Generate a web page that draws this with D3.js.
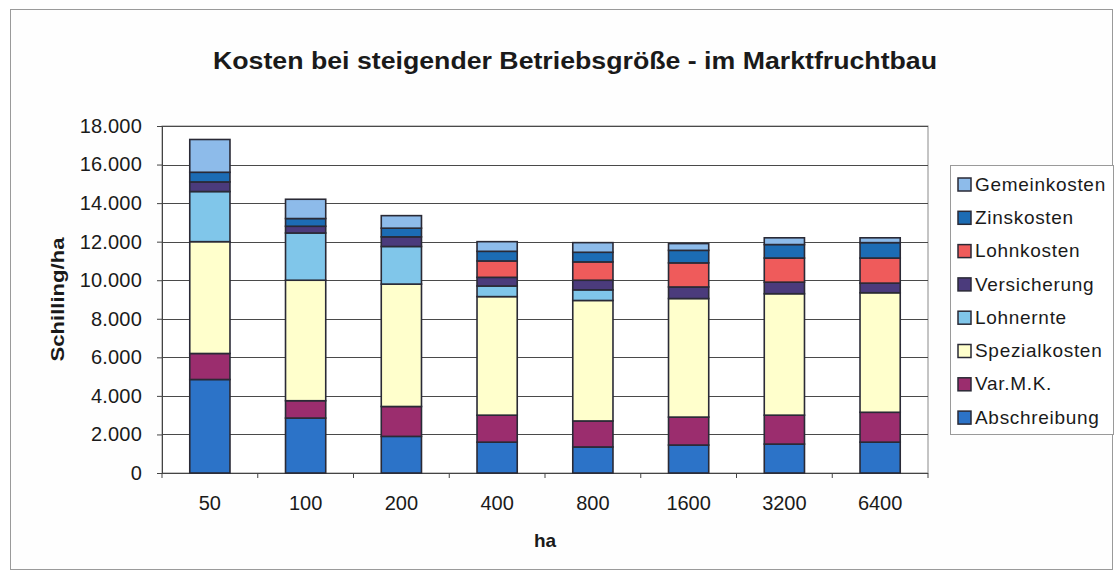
<!DOCTYPE html>
<html>
<head>
<meta charset="utf-8">
<script src="https://cdn.jsdelivr.net/npm/d3@7"></script>
<style>
  body { margin: 0; background: #fff; }
  text { font-family: "Liberation Sans", Arial, sans-serif; fill: #1a1a1a; }
</style>
</head>
<body>
<div id="chart"></div>
<script>
const width = 1120;
const height = 580;

// DATEN
const categories = ["50", "100", "200", "400", "800", "1600", "3200", "6400"];

const abschreibung  = [4850, 2850, 1900, 1600, 1350, 1450, 1500, 1600];
const varMK         = [1350,  900, 1550, 1400, 1350, 1450, 1500, 1550];
const spezialkosten = [5800, 6250, 6350, 6150, 6250, 6150, 6300, 6200];
const lohnernte     = [2600, 2450, 1950,  550,  550,    0,    0,    0];
const versicherung  = [ 500,  350,  500,  450,  500,  600,  600,  500];
const lohnkosten    = [   0,    0,    0,  850,  950, 1250, 1250, 1300];
const zinskosten    = [ 500,  400,  450,  500,  500,  650,  700,  800];
const gemeinkosten  = [1700, 1000,  650,  500,  500,  350,  350,  250];

const seriesNames = ["Abschreibung", "Var.M.K.", "Spezialkosten", "Lohnernte",
  "Versicherung", "Lohnkosten", "Zinskosten", "Gemeinkosten"];
const seriesValues = [abschreibung, varMK, spezialkosten, lohnernte,
  versicherung, lohnkosten, zinskosten, gemeinkosten];
const seriesColors = ["#2c73c8", "#9b2d6e", "#ffffcc", "#80c6ea",
  "#4b3b7c", "#ef5b5b", "#1c6cb4", "#8dbbea"];

const yTicks = [0, 2000, 4000, 6000, 8000, 10000, 12000, 14000, 16000, 18000];

const title = "Kosten bei steigender Betriebsgröße - im Marktfruchtbau";

// TABELLE FÜR STACK
const table = categories.map((c, i) => {
  const row = { cat: c };
  seriesNames.forEach((s, j) => { row[s] = seriesValues[j][i]; });
  return row;
});
const stacked = d3.stack().keys(seriesNames)(table);

const plot = { left: 162, right: 928, top: 126, bottom: 473 };

const svg = d3.select("#chart")
  .append("svg")
  .attr("width", width)
  .attr("height", height);

// RAHMEN
svg.append("rect")
  .attr("x", 10.5).attr("y", 9.5)
  .attr("width", 1102).attr("height", 560)
  .attr("fill", "#fefefe")
  .attr("stroke", "#9a9a9a");

const x = d3.scaleBand()
  .domain(categories)
  .range([plot.left, plot.right])
  .paddingInner(0.58)
  .paddingOuter(0.29);

const y = d3.scaleLinear()
  .domain([0, 18000])
  .range([plot.bottom, plot.top]);

// PLOTFLÄCHE
svg.append("rect")
  .attr("x", plot.left).attr("y", plot.top)
  .attr("width", plot.right - plot.left)
  .attr("height", plot.bottom - plot.top)
  .attr("fill", "#fff")
  .attr("stroke", "#8a8a8a");

// GITTER
svg.append("g")
  .selectAll("line")
  .data(yTicks.slice(1))
  .enter()
  .append("line")
  .attr("x1", plot.left).attr("x2", plot.right)
  .attr("y1", d => Math.round(y(d)) + 0.5)
  .attr("y2", d => Math.round(y(d)) + 0.5)
  .attr("stroke", "#4a4a4a")
  .attr("stroke-width", 1);

// ACHSEN
const yAxis = svg.append("g")
  .attr("transform", `translate(${plot.left},0)`)
  .call(d3.axisLeft(y)
    .tickValues(yTicks)
    .tickSize(5)
    .tickPadding(15)
    .tickFormat(d => d3.format(",")(d).replace(/,/g, ".")));

yAxis.select(".domain").attr("stroke", "#444");
yAxis.selectAll(".tick line").attr("stroke", "#444");
yAxis.selectAll("text")
  .attr("font-size", "20px")
  .attr("letter-spacing", "0.2px")
  .attr("fill", "#1a1a1a");

const boundaries = d3.range(categories.length + 1)
  .map(i => plot.left + i * x.step());

svg.append("line")
  .attr("x1", plot.left).attr("x2", plot.right)
  .attr("y1", plot.bottom + 0.5).attr("y2", plot.bottom + 0.5)
  .attr("stroke", "#444");

svg.append("g")
  .selectAll("line")
  .data(boundaries)
  .enter()
  .append("line")
  .attr("x1", d => d).attr("x2", d => d)
  .attr("y1", plot.bottom).attr("y2", plot.bottom + 5)
  .attr("stroke", "#444");

svg.append("g")
  .selectAll("text")
  .data(categories)
  .enter()
  .append("text")
  .attr("x", d => x(d) + x.bandwidth() / 2)
  .attr("y", 510)
  .attr("text-anchor", "middle")
  .attr("font-size", "20px")
  .text(d => d);

// BALKEN
svg.append("g")
  .selectAll("g")
  .data(stacked)
  .enter()
  .append("g")
  .attr("fill", (d, i) => seriesColors[i])
  .selectAll("rect")
  .data(d => d.filter(p => p[1] - p[0] > 0))
  .enter()
  .append("rect")
  .attr("x", d => x(d.data.cat))
  .attr("width", x.bandwidth())
  .attr("y", d => y(d[1]))
  .attr("height", d => y(d[0]) - y(d[1]))
  .attr("stroke", "#2a2a36")
  .attr("stroke-width", 1.6);

// TITEL
svg.append("text")
  .attr("x", 575)
  .attr("y", 69)
  .attr("text-anchor", "middle")
  .attr("font-size", "23px")
  .attr("font-weight", "bold")
  .attr("textLength", 724)
  .attr("lengthAdjust", "spacingAndGlyphs")
  .text(title);

svg.append("text")
  .attr("transform", `translate(64,${(plot.top + plot.bottom) / 2}) rotate(-90)`)
  .attr("text-anchor", "middle")
  .attr("font-size", "19px")
  .attr("font-weight", "bold")
  .attr("textLength", 124)
  .attr("lengthAdjust", "spacingAndGlyphs")
  .text("Schilling/ha");

svg.append("text")
  .attr("x", (plot.left + plot.right) / 2)
  .attr("y", 547)
  .attr("text-anchor", "middle")
  .attr("font-size", "19px")
  .attr("font-weight", "bold")
  .text("ha");

// LEGENDE
const legend = svg.append("g");

legend.append("rect")
  .attr("x", 950.5).attr("y", 165.5)
  .attr("width", 163).attr("height", 269)
  .attr("fill", "#fff")
  .attr("stroke", "#9a9a9a");

const legendItems = legend.selectAll("g.item")
  .data(seriesNames.slice().reverse())
  .enter()
  .append("g")
  .attr("class", "item")
  .attr("transform", (d, i) => `translate(958,${184 + i * 33.3})`);

legendItems.append("rect")
  .attr("x", 0).attr("y", -6)
  .attr("width", 13).attr("height", 13)
  .attr("fill", d => seriesColors[seriesNames.indexOf(d)])
  .attr("stroke", "#2a2a36")
  .attr("stroke-width", 1.5);

legendItems.append("text")
  .attr("x", 17)
  .attr("y", 0)
  .attr("dy", "0.35em")
  .attr("font-size", "19px")
  .attr("letter-spacing", "0.7px")
  .text(d => d);
</script>
</body>
</html>
